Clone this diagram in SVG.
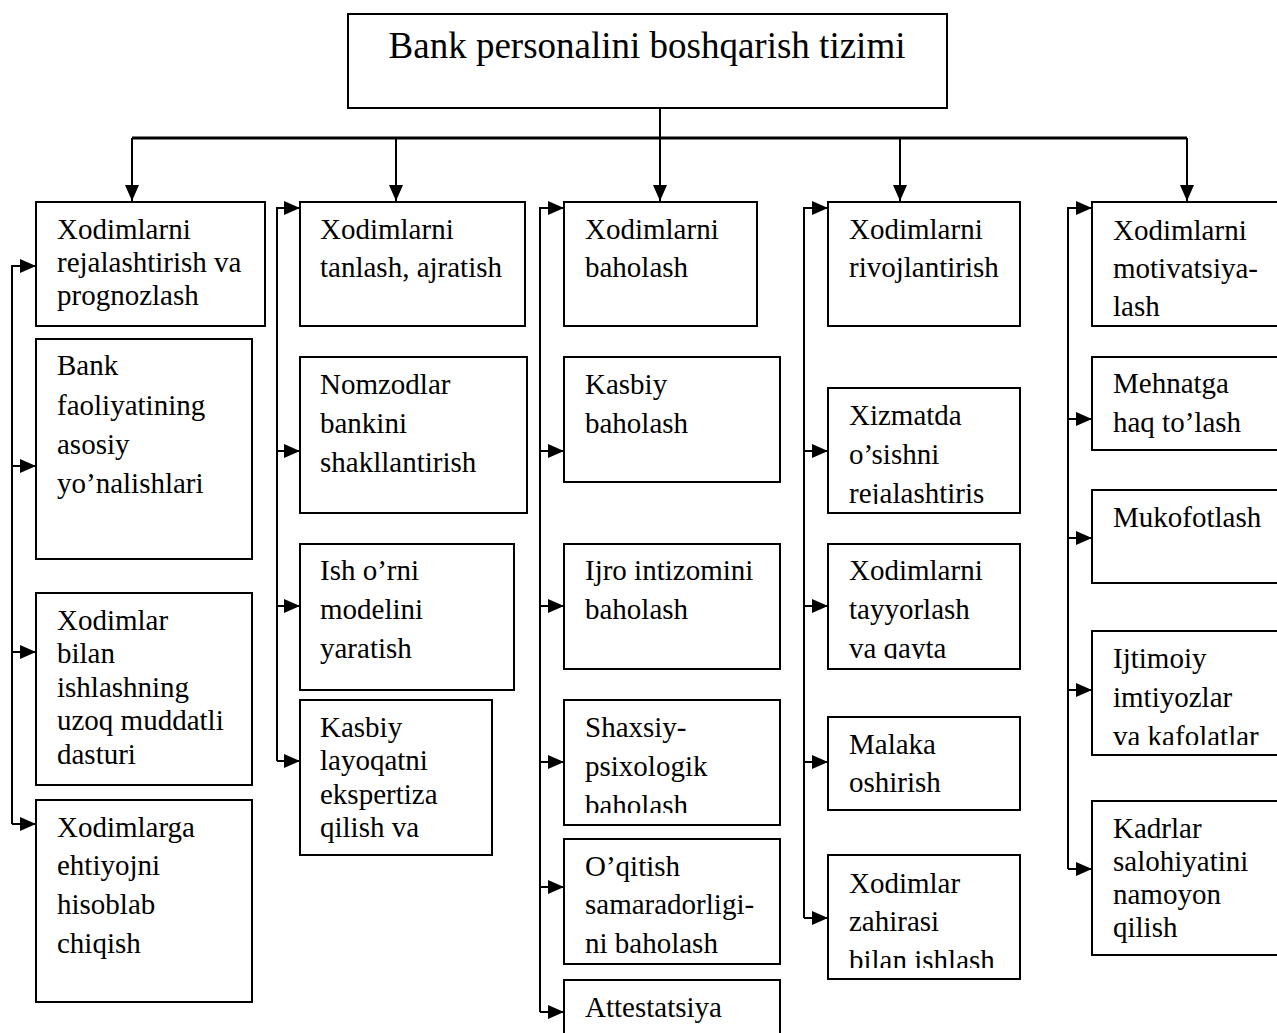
<svg xmlns="http://www.w3.org/2000/svg" width="1277" height="1033" viewBox="0 0 1277 1033">
<style>
  .box { fill: #ffffff; stroke: #000000; stroke-width: 2; }
  .t { font-family: "Liberation Serif", "Times New Roman", serif; font-size: 29px; fill: #000000; }
  .title { font-family: "Liberation Serif", "Times New Roman", serif; font-size: 37px; fill: #000000; }
  .c { fill: none; stroke: #000000; stroke-width: 2; }
  .trunk { fill: none; stroke: #000000; stroke-width: 3; }
</style>
<defs>
  <marker id="ah" markerWidth="16" markerHeight="14" refX="16" refY="7" orient="auto" markerUnits="userSpaceOnUse">
    <path d="M0,0 L16,7 L0,14 Z" fill="#000000"/>
  </marker>
  <clipPath id="clipXiz" clipPathUnits="userSpaceOnUse"><rect x="828" y="388" width="192" height="116"/></clipPath>
  <clipPath id="clipTay" clipPathUnits="userSpaceOnUse"><rect x="828" y="544" width="192" height="115"/></clipPath>
  <clipPath id="clipSha" clipPathUnits="userSpaceOnUse"><rect x="564" y="700" width="216" height="113"/></clipPath>
  <clipPath id="clipZah" clipPathUnits="userSpaceOnUse"><rect x="828" y="855" width="192" height="113"/></clipPath>
  <clipPath id="clipIjt" clipPathUnits="userSpaceOnUse"><rect x="1092" y="631" width="200" height="114"/></clipPath>
</defs>

<g id="connectors">
  <path class="c" d="M660,108 V138"/>
  <path class="trunk" d="M132,138 H1187"/>
  <path class="c" d="M132,138 V201" marker-end="url(#ah)"/>
  <path class="c" d="M396,138 V201" marker-end="url(#ah)"/>
  <path class="c" d="M660,138 V201" marker-end="url(#ah)"/>
  <path class="c" d="M900,138 V201" marker-end="url(#ah)"/>
  <path class="c" d="M1187,138 V201" marker-end="url(#ah)"/>

  <path class="c" d="M12,824 V266 H36" marker-end="url(#ah)"/>
  <path class="c" d="M12,466 H36" marker-end="url(#ah)"/>
  <path class="c" d="M12,652 H36" marker-end="url(#ah)"/>
  <path class="c" d="M12,824 H36" marker-end="url(#ah)"/>

  <path class="c" d="M277,761 V208 H300" marker-end="url(#ah)"/>
  <path class="c" d="M277,451 H300" marker-end="url(#ah)"/>
  <path class="c" d="M277,606 H300" marker-end="url(#ah)"/>
  <path class="c" d="M277,761 H300" marker-end="url(#ah)"/>

  <path class="c" d="M540,1012 V208 H564" marker-end="url(#ah)"/>
  <path class="c" d="M540,451 H564" marker-end="url(#ah)"/>
  <path class="c" d="M540,606 H564" marker-end="url(#ah)"/>
  <path class="c" d="M540,762 H564" marker-end="url(#ah)"/>
  <path class="c" d="M540,887 H564" marker-end="url(#ah)"/>
  <path class="c" d="M540,1012 H564" marker-end="url(#ah)"/>

  <path class="c" d="M804,918 V208 H828" marker-end="url(#ah)"/>
  <path class="c" d="M804,451 H828" marker-end="url(#ah)"/>
  <path class="c" d="M804,606 H828" marker-end="url(#ah)"/>
  <path class="c" d="M804,762 H828" marker-end="url(#ah)"/>
  <path class="c" d="M804,918 H828" marker-end="url(#ah)"/>

  <path class="c" d="M1068,869 V208 H1092" marker-end="url(#ah)"/>
  <path class="c" d="M1068,419 H1092" marker-end="url(#ah)"/>
  <path class="c" d="M1068,538 H1092" marker-end="url(#ah)"/>
  <path class="c" d="M1068,690 H1092" marker-end="url(#ah)"/>
  <path class="c" d="M1068,869 H1092" marker-end="url(#ah)"/>
</g>

<g id="root">
  <rect class="box" x="348" y="14" width="599" height="94"/>
  <text class="title" x="647" y="58" text-anchor="middle">Bank personalini boshqarish tizimi</text>
</g>

<g id="n1">
  <rect class="box" x="36" y="202" width="229" height="124"/>
  <text class="t" x="57" y="239">Xodimlarni</text>
  <text class="t" x="57" y="272">rejalashtirish va</text>
  <text class="t" x="57" y="305">prognozlash</text>
</g>
<g id="n1a">
  <rect class="box" x="36" y="339" width="216" height="220"/>
  <text class="t" x="57" y="375">Bank</text>
  <text class="t" x="57" y="415">faoliyatining</text>
  <text class="t" x="57" y="454">asosiy</text>
  <text class="t" x="57" y="493">yo’nalishlari</text>
</g>
<g id="n1b">
  <rect class="box" x="36" y="593" width="216" height="192"/>
  <text class="t" x="57" y="630">Xodimlar</text>
  <text class="t" x="57" y="663">bilan</text>
  <text class="t" x="57" y="697">ishlashning</text>
  <text class="t" x="57" y="730">uzoq muddatli</text>
  <text class="t" x="57" y="764">dasturi</text>
</g>
<g id="n1c">
  <rect class="box" x="36" y="800" width="216" height="202"/>
  <text class="t" x="57" y="837">Xodimlarga</text>
  <text class="t" x="57" y="875">ehtiyojni</text>
  <text class="t" x="57" y="914">hisoblab</text>
  <text class="t" x="57" y="953">chiqish</text>
</g>

<g id="n2">
  <rect class="box" x="300" y="202" width="225" height="124"/>
  <text class="t" x="320" y="239">Xodimlarni</text>
  <text class="t" x="320" y="277">tanlash, ajratish</text>
</g>
<g id="n2a">
  <rect class="box" x="300" y="357" width="227" height="156"/>
  <text class="t" x="320" y="394">Nomzodlar</text>
  <text class="t" x="320" y="433">bankini</text>
  <text class="t" x="320" y="472">shakllantirish</text>
</g>
<g id="n2b">
  <rect class="box" x="300" y="544" width="214" height="146"/>
  <text class="t" x="320" y="580">Ish o’rni</text>
  <text class="t" x="320" y="619">modelini</text>
  <text class="t" x="320" y="658">yaratish</text>
</g>
<g id="n2c">
  <rect class="box" x="300" y="700" width="192" height="155"/>
  <text class="t" x="320" y="737">Kasbiy</text>
  <text class="t" x="320" y="770">layoqatni</text>
  <text class="t" x="320" y="804">ekspertiza</text>
  <text class="t" x="320" y="837">qilish va</text>
</g>

<g id="n3">
  <rect class="box" x="564" y="202" width="193" height="124"/>
  <text class="t" x="585" y="239">Xodimlarni</text>
  <text class="t" x="585" y="277">baholash</text>
</g>
<g id="n3a">
  <rect class="box" x="564" y="357" width="216" height="125"/>
  <text class="t" x="585" y="394">Kasbiy</text>
  <text class="t" x="585" y="433">baholash</text>
</g>
<g id="n3b">
  <rect class="box" x="564" y="544" width="216" height="125"/>
  <text class="t" x="585" y="580">Ijro intizomini</text>
  <text class="t" x="585" y="619">baholash</text>
</g>
<g id="n3c">
  <rect class="box" x="564" y="700" width="216" height="125"/>
  <g clip-path="url(#clipSha)">
    <text class="t" x="585" y="737">Shaxsiy-</text>
    <text class="t" x="585" y="776">psixologik</text>
    <text class="t" x="585" y="815">baholash</text>
  </g>
</g>
<g id="n3d">
  <rect class="box" x="564" y="839" width="216" height="125"/>
  <text class="t" x="585" y="876">O’qitish</text>
  <text class="t" x="585" y="914">samaradorligi-</text>
  <text class="t" x="585" y="953">ni baholash</text>
</g>
<g id="n3e">
  <rect class="box" x="564" y="980" width="216" height="70"/>
  <text class="t" x="585" y="1017">Attestatsiya</text>
</g>

<g id="n4">
  <rect class="box" x="828" y="202" width="192" height="124"/>
  <text class="t" x="849" y="239">Xodimlarni</text>
  <text class="t" x="849" y="277">rivojlantirish</text>
</g>
<g id="n4a">
  <rect class="box" x="828" y="388" width="192" height="125"/>
  <g clip-path="url(#clipXiz)">
    <text class="t" x="849" y="425">Xizmatda</text>
    <text class="t" x="849" y="464">o’sishni</text>
    <text class="t" x="849" y="503">rejalashtiris</text>
  </g>
</g>
<g id="n4b">
  <rect class="box" x="828" y="544" width="192" height="125"/>
  <g clip-path="url(#clipTay)">
    <text class="t" x="849" y="580">Xodimlarni</text>
    <text class="t" x="849" y="619">tayyorlash</text>
    <text class="t" x="849" y="658">va qayta</text>
  </g>
</g>
<g id="n4c">
  <rect class="box" x="828" y="717" width="192" height="93"/>
  <text class="t" x="849" y="754">Malaka</text>
  <text class="t" x="849" y="792">oshirish</text>
</g>
<g id="n4d">
  <rect class="box" x="828" y="855" width="192" height="124"/>
  <g clip-path="url(#clipZah)">
    <text class="t" x="849" y="893">Xodimlar</text>
    <text class="t" x="849" y="931">zahirasi</text>
    <text class="t" x="849" y="970">bilan ishlash</text>
  </g>
</g>

<g id="n5">
  <rect class="box" x="1092" y="202" width="200" height="124"/>
  <text class="t" x="1113" y="240">Xodimlarni</text>
  <text class="t" x="1113" y="278">motivatsiya-</text>
  <text class="t" x="1113" y="316">lash</text>
</g>
<g id="n5a">
  <rect class="box" x="1092" y="357" width="200" height="93"/>
  <text class="t" x="1113" y="393">Mehnatga</text>
  <text class="t" x="1113" y="432">haq to’lash</text>
</g>
<g id="n5b">
  <rect class="box" x="1092" y="490" width="200" height="93"/>
  <text class="t" x="1113" y="527">Mukofotlash</text>
</g>
<g id="n5c">
  <rect class="box" x="1092" y="631" width="200" height="124"/>
  <g clip-path="url(#clipIjt)">
    <text class="t" x="1113" y="668">Ijtimoiy</text>
    <text class="t" x="1113" y="707">imtiyozlar</text>
    <text class="t" x="1113" y="746">va kafolatlar</text>
  </g>
</g>
<g id="n5d">
  <rect class="box" x="1092" y="801" width="200" height="154"/>
  <text class="t" x="1113" y="838">Kadrlar</text>
  <text class="t" x="1113" y="871">salohiyatini</text>
  <text class="t" x="1113" y="904">namoyon</text>
  <text class="t" x="1113" y="937">qilish</text>
</g>
</svg>
